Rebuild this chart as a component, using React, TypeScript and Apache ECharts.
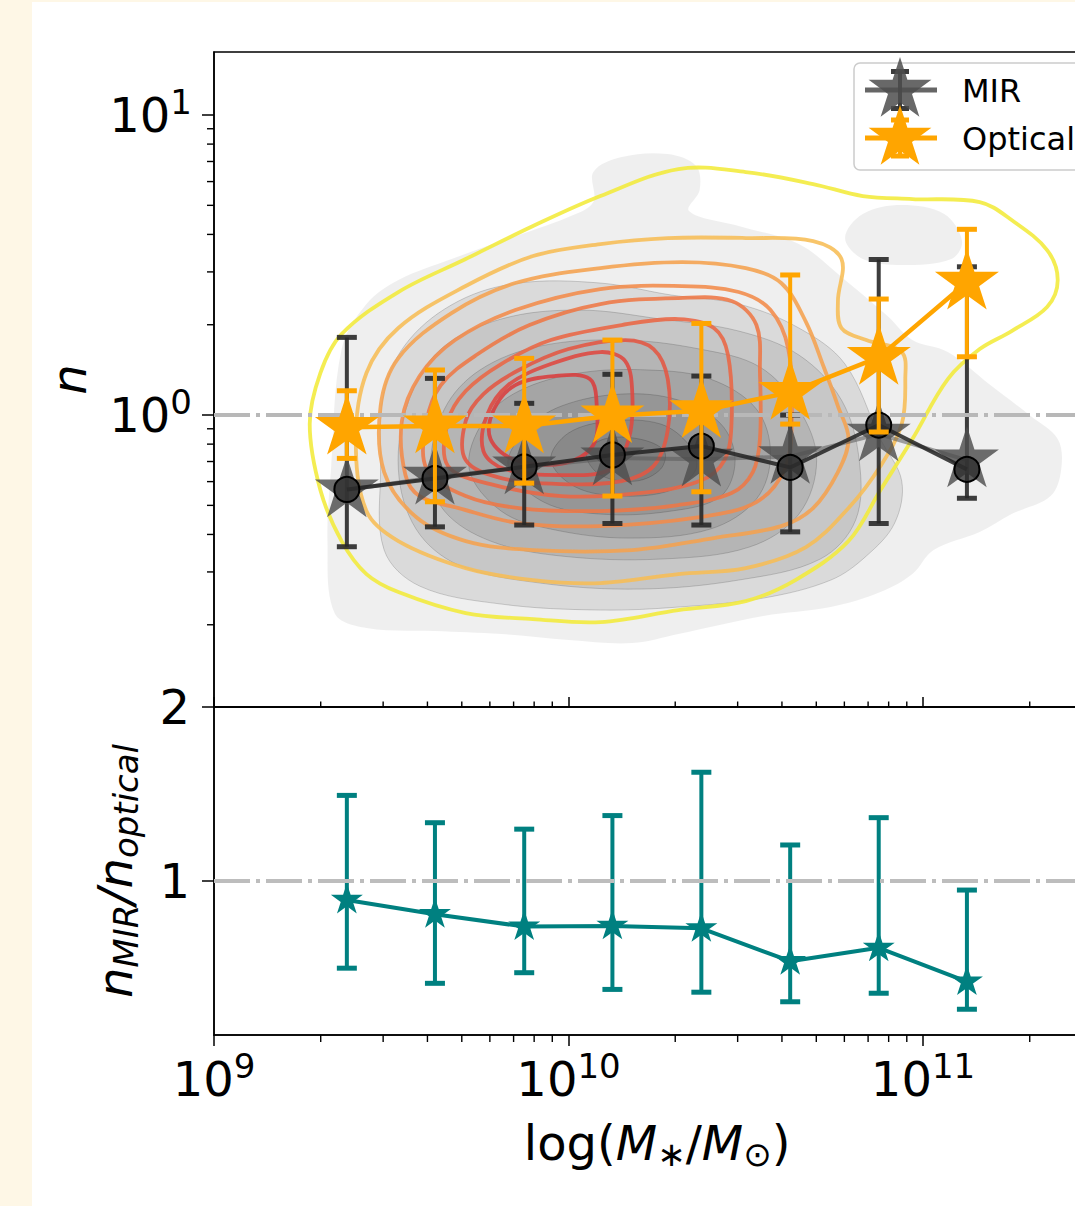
import React, { useEffect, useRef } from 'react';
import * as echarts from 'echarts';

// ---------------- data ----------------
const massBins = [2.37e9, 4.2e9, 7.5e9, 1.33e10, 2.37e10, 4.22e10, 7.5e10, 1.33e11];
const mirMean = [0.563, 0.621, 0.671, 0.719, 0.713, 0.727, 0.864, 0.708];
const mirMedian = [0.565, 0.615, 0.672, 0.736, 0.788, 0.669, 0.926, 0.659];
const mirLow = [0.364, 0.424, 0.43, 0.435, 0.43, 0.408, 0.435, 0.528];
const mirHigh = [1.815, 1.325, 1.094, 1.367, 1.349, 1.0, 3.3, 3.12];
const optMean = [0.91, 0.92, 0.92, 0.994, 1.034, 1.19, 1.557, 2.77];
const optLow = [0.717, 0.514, 0.593, 0.537, 0.555, 0.933, 0.878, 1.564];
const optHigh = [1.205, 1.413, 1.545, 1.778, 2.02, 2.93, 2.436, 4.16];
const ratio = [0.891, 0.809, 0.738, 0.742, 0.728, 0.539, 0.616, 0.422];
const ratioLow = [0.499, 0.412, 0.473, 0.377, 0.361, 0.306, 0.355, 0.263];
const ratioHigh = [1.492, 1.335, 1.298, 1.376, 1.625, 1.207, 1.364, 0.948];

const massRange = [1e9, 3.162e11];
const nRange = [0.1064, 16.22];
const ratioRange = [0.115, 2];
const massTickExps = [9, 10, 11];
const nTickExps = [0, 1];
const ratioTicks = [1, 2];
const minorSteps = [2, 3, 4, 5, 6, 7, 8, 9];
const refValue = 1;

// KDE contours, vertices as [log10 M*, log10 n]
const mirContours = [
  [[9.34,-0.66],[9.32,-0.42],[9.33,-0.18],[9.36,0.22],[9.43,0.37],[9.52,0.45],[9.67,0.52],[9.81,0.58],[10.0,0.66],[10.07,0.71],[10.07,0.81],[10.15,0.86],[10.28,0.87],[10.36,0.83],[10.37,0.75],[10.34,0.68],[10.48,0.63],[10.65,0.57],[10.78,0.45],[10.9,0.33],[10.97,0.25],[11.07,0.21],[11.19,0.1],[11.3,0.0],[11.38,-0.08],[11.39,-0.18],[11.36,-0.27],[11.25,-0.33],[11.16,-0.39],[11.03,-0.45],[10.97,-0.53],[10.88,-0.59],[10.74,-0.64],[10.55,-0.67],[10.31,-0.73],[10.18,-0.76],[10.0,-0.75],[9.81,-0.73],[9.62,-0.72],[9.43,-0.71]],
  [[10.78,0.59],[10.83,0.67],[10.94,0.7],[11.06,0.67],[11.11,0.58],[11.08,0.52],[10.94,0.5],[10.83,0.52]],
  [[9.47,-0.18],[9.48,0.08],[9.55,0.25],[9.69,0.38],[9.86,0.44],[10.09,0.44],[10.29,0.4],[10.48,0.37],[10.65,0.29],[10.78,0.17],[10.88,-0.08],[10.94,-0.22],[10.92,-0.36],[10.84,-0.47],[10.74,-0.55],[10.55,-0.61],[10.31,-0.64],[10.09,-0.65],[9.81,-0.63],[9.58,-0.57],[9.48,-0.45]],
  [[9.52,-0.18],[9.55,0.05],[9.64,0.22],[9.81,0.32],[10.03,0.35],[10.26,0.32],[10.48,0.28],[10.65,0.2],[10.77,0.05],[10.82,-0.15],[10.81,-0.35],[10.71,-0.48],[10.48,-0.55],[10.2,-0.58],[9.92,-0.56],[9.69,-0.5],[9.57,-0.38]],
  [[9.61,-0.18],[9.65,0.02],[9.75,0.15],[9.92,0.23],[10.15,0.25],[10.37,0.22],[10.54,0.16],[10.65,0.02],[10.7,-0.15],[10.65,-0.33],[10.51,-0.44],[10.26,-0.48],[9.98,-0.47],[9.78,-0.42],[9.65,-0.32]],
  [[9.72,-0.18],[9.76,-0.02],[9.86,0.08],[10.03,0.14],[10.23,0.15],[10.4,0.12],[10.53,0.02],[10.57,-0.13],[10.53,-0.28],[10.4,-0.38],[10.17,-0.41],[9.95,-0.38],[9.81,-0.32]],
  [[9.83,-0.17],[9.88,-0.05],[9.98,0.03],[10.15,0.07],[10.31,0.05],[10.43,-0.03],[10.47,-0.15],[10.43,-0.27],[10.29,-0.32],[10.09,-0.33],[9.93,-0.29]],
  [[9.95,-0.15],[10.0,-0.06],[10.12,-0.02],[10.26,-0.03],[10.34,-0.1],[10.36,-0.18],[10.29,-0.25],[10.15,-0.27],[10.02,-0.24]],
  [[10.05,-0.13],[10.1,-0.08],[10.2,-0.08],[10.27,-0.12],[10.26,-0.18],[10.19,-0.22],[10.09,-0.2]],
];

const optContours = [
  [[10.31,0.82],[10.5,0.81],[10.69,0.77],[10.83,0.73],[10.97,0.72],[11.16,0.71],[11.25,0.65],[11.35,0.55],[11.38,0.45],[11.35,0.36],[11.25,0.28],[11.16,0.22],[11.07,0.12],[10.97,-0.08],[10.88,-0.25],[10.79,-0.42],[10.64,-0.55],[10.5,-0.62],[10.31,-0.65],[10.09,-0.69],[9.9,-0.68],[9.71,-0.66],[9.52,-0.59],[9.43,-0.53],[9.36,-0.42],[9.3,-0.25],[9.27,-0.03],[9.3,0.14],[9.36,0.27],[9.52,0.41],[9.71,0.52],[9.9,0.63],[10.09,0.73]],
  [[9.4,-0.08],[9.43,0.14],[9.52,0.29],[9.71,0.43],[9.9,0.53],[10.09,0.57],[10.28,0.59],[10.5,0.59],[10.69,0.58],[10.77,0.52],[10.76,0.38],[10.77,0.29],[10.84,0.25],[10.94,0.21],[10.95,0.12],[10.94,-0.03],[10.88,-0.17],[10.79,-0.31],[10.67,-0.44],[10.5,-0.51],[10.31,-0.53],[10.09,-0.56],[9.9,-0.55],[9.71,-0.51],[9.52,-0.42],[9.43,-0.32]],
  [[9.48,-0.19],[9.47,0.03],[9.52,0.19],[9.67,0.34],[9.85,0.44],[10.09,0.49],[10.32,0.51],[10.5,0.49],[10.6,0.44],[10.67,0.31],[10.72,0.16],[10.76,0.03],[10.79,-0.08],[10.76,-0.19],[10.69,-0.31],[10.6,-0.37],[10.41,-0.41],[10.18,-0.45],[9.9,-0.45],[9.71,-0.42],[9.57,-0.34]],
  [[9.54,-0.2],[9.53,-0.02],[9.58,0.13],[9.68,0.25],[9.85,0.35],[10.09,0.42],[10.32,0.43],[10.48,0.41],[10.57,0.35],[10.62,0.22],[10.63,-0.02],[10.61,-0.18],[10.53,-0.29],[10.37,-0.34],[10.09,-0.37],[9.86,-0.36],[9.69,-0.31],[9.58,-0.27]],
  [[9.6,-0.18],[9.6,-0.02],[9.64,0.1],[9.74,0.2],[9.89,0.3],[10.09,0.37],[10.31,0.39],[10.46,0.38],[10.53,0.3],[10.54,0.14],[10.54,-0.08],[10.52,-0.19],[10.46,-0.26],[10.31,-0.3],[10.09,-0.32],[9.86,-0.31],[9.71,-0.27]],
  [[9.66,-0.17],[9.66,-0.02],[9.71,0.08],[9.81,0.17],[9.95,0.25],[10.15,0.3],[10.31,0.32],[10.41,0.29],[10.45,0.2],[10.46,-0.02],[10.44,-0.15],[10.37,-0.22],[10.2,-0.26],[9.98,-0.27],[9.78,-0.23]],
  [[9.71,-0.15],[9.71,-0.02],[9.76,0.07],[9.86,0.15],[10.0,0.22],[10.16,0.25],[10.24,0.22],[10.28,0.12],[10.28,-0.05],[10.24,-0.17],[10.15,-0.22],[9.98,-0.23],[9.81,-0.21]],
  [[9.76,-0.12],[9.77,0.0],[9.83,0.1],[9.95,0.17],[10.09,0.21],[10.16,0.18],[10.18,0.07],[10.17,-0.08],[10.12,-0.18],[9.98,-0.2],[9.82,-0.18]],
  [[9.78,-0.08],[9.79,0.02],[9.85,0.1],[9.96,0.13],[10.06,0.12],[10.08,0.02],[10.07,-0.1],[9.99,-0.16],[9.85,-0.15]],
];
const optContourColors = ['#f2ea3a', '#f7bd55', '#f5a24f', '#f28b4a', '#ee7846', '#ea6644', '#e45642', '#df4840', '#da3d3d'];

// ---------------- helpers ----------------
const FONT = 'DejaVu Sans';
const STAR_D = 'M0,-50L11.23,-15.45L47.55,-15.45L18.17,5.9L29.39,40.45L0,19.1L-29.39,40.45L-18.17,5.9L-47.55,-15.45L-11.23,-15.45Z';
echarts.graphic.registerShape('star5', echarts.graphic.extendPath(STAR_D, {}));
const STAR_SYMBOL = 'path://' + STAR_D;

const lg = (v: number) => Math.log10(v);
const lx = massBins.map(lg);
const xMin = lg(massRange[0]);
const xMax = lg(massRange[1]);
const yMin = lg(nRange[0]);
const yMax = lg(nRange[1]);

const xMinor: number[] = [];
[8, 9, 10, 11].forEach((d) => minorSteps.forEach((k) => { const v = d + lg(k); if (v > xMin && v < xMax) xMinor.push(v); }));
const yMinor: number[] = [];
[-1, 0, 1].forEach((d) => minorSteps.forEach((k) => { const v = d + lg(k); if (v > yMin && v < yMax) yMinor.push(v); }));

function errorBars(color: string, lineW: number, capW: number, capLw: number) {
  return (params: any, api: any) => {
    const x = api.value(0);
    const lo = api.coord([x, api.value(1)]);
    const hi = api.coord([x, api.value(2)]);
    return {
      type: 'group',
      children: [
        { type: 'line', shape: { x1: lo[0], y1: lo[1], x2: hi[0], y2: hi[1] }, style: { stroke: color, lineWidth: lineW } },
        { type: 'line', shape: { x1: hi[0] - capW / 2, y1: hi[1], x2: hi[0] + capW / 2, y2: hi[1] }, style: { stroke: color, lineWidth: capLw } },
        { type: 'line', shape: { x1: lo[0] - capW / 2, y1: lo[1], x2: lo[0] + capW / 2, y2: lo[1] }, style: { stroke: color, lineWidth: capLw } },
      ],
    };
  };
}

function tickSeries(xi: number, yi: number, data: number[][], dx: number, dy: number) {
  return {
    type: 'custom', xAxisIndex: xi, yAxisIndex: yi, silent: true, z: 20, clip: false,
    data,
    renderItem: (params: any, api: any) => {
      const p = api.coord([api.value(0), api.value(1)]);
      return { type: 'line', shape: { x1: p[0], y1: p[1], x2: p[0] + dx, y2: p[1] + dy }, style: { stroke: '#000', lineWidth: 1.4 } };
    },
  };
}

const axisLineStyle = { color: '#000', width: 1.5 };
const supRich = {
  b: { fontSize: 48, lineHeight: 60, fontFamily: FONT, color: '#000' },
  p: { fontSize: 34, lineHeight: 30, fontFamily: FONT, color: '#000', verticalAlign: 'top' },
};

function buildOption() {
  return {
    animation: false,
    backgroundColor: '#ffffff',
    grid: [
      { left: 182, top: 50, width: 886.25, height: 655, show: true, borderColor: '#000', borderWidth: 1.5, backgroundColor: 'transparent' },
      { left: 182, top: 705, width: 886.25, height: 328, show: true, borderColor: '#000', borderWidth: 1.5, backgroundColor: 'transparent' },
    ],
    xAxis: [
      {
        gridIndex: 0, type: 'value', min: xMin, max: xMax,
        axisLine: { show: true, onZero: false, lineStyle: axisLineStyle },
        axisTick: { show: true, inside: true, length: 10, customValues: massTickExps, lineStyle: axisLineStyle },
        axisLabel: { show: false }, splitLine: { show: false },
      },
      {
        gridIndex: 1, type: 'value', min: xMin, max: xMax,
        axisLine: { show: true, onZero: false, lineStyle: axisLineStyle },
        axisTick: { show: true, length: 11, customValues: massTickExps, lineStyle: axisLineStyle },
        axisLabel: { show: true, customValues: massTickExps, margin: 14, formatter: (v: number) => `{b|10}{p|${Math.round(v)}}`, rich: supRich },
        splitLine: { show: false },
        name: '{n|log(}{i|M}{s|∗}{n|/}{i|M}{s|⊙}{n|)}',
        nameLocation: 'middle', nameGap: 80,
        nameTextStyle: {
          rich: {
            n: { fontSize: 48, lineHeight: 56, fontFamily: FONT, color: '#000' },
            i: { fontSize: 48, lineHeight: 56, fontFamily: FONT, fontStyle: 'italic', color: '#000' },
            s: { fontSize: 34, lineHeight: 28, fontFamily: FONT, color: '#000', verticalAlign: 'bottom' },
          },
        },
      },
    ],
    yAxis: [
      {
        gridIndex: 0, type: 'value', min: yMin, max: yMax,
        axisLine: { show: true, onZero: false, lineStyle: axisLineStyle },
        axisTick: { show: true, length: 12, customValues: nTickExps, lineStyle: axisLineStyle },
        axisLabel: { show: true, customValues: nTickExps, margin: 22, formatter: (v: number) => `{b|10}{p|${Math.round(v)}}`, rich: supRich },
        splitLine: { show: false },
        name: 'n', nameLocation: 'middle', nameGap: 117,
        nameTextStyle: { fontSize: 48, lineHeight: 56, fontStyle: 'italic', fontFamily: FONT, color: '#000' },
      },
      {
        gridIndex: 1, type: 'value', min: ratioRange[0], max: ratioRange[1],
        axisLine: { show: true, onZero: false, lineStyle: axisLineStyle },
        axisTick: { show: true, length: 12, customValues: ratioTicks, lineStyle: axisLineStyle },
        axisLabel: { show: true, customValues: ratioTicks, margin: 24, fontSize: 48, fontFamily: FONT, color: '#000' },
        splitLine: { show: false },
        name: '{i|n}{s|MIR}{i|/n}{s|optical}', nameLocation: 'middle', nameGap: 71,
        nameTextStyle: {
          rich: {
            i: { fontSize: 48, lineHeight: 56, fontFamily: FONT, fontStyle: 'italic', color: '#000' },
            s: { fontSize: 34, lineHeight: 28, fontFamily: FONT, fontStyle: 'italic', color: '#000', verticalAlign: 'bottom' },
          },
        },
      },
    ],
    series: [
      // MIR KDE (filled grey levels)
      {
        type: 'custom', xAxisIndex: 0, yAxisIndex: 0, silent: true, z: 1,
        data: mirContours.map((poly, i) => [poly[0][0], poly[0][1], i]),
        renderItem: (params: any, api: any) => {
          const i = params.dataIndex;
          const pts = mirContours[i].map((p) => api.coord(p));
          return {
            type: 'polygon', shape: { points: pts, smooth: 0.35 },
            style: { fill: i > 1 ? 'rgba(0,0,0,0.088)' : 'rgba(0,0,0,0.062)', stroke: i > 1 ? 'rgba(0,0,0,0.16)' : 'none', lineWidth: 1 },
          };
        },
      },
      // Optical KDE (line levels)
      {
        type: 'custom', xAxisIndex: 0, yAxisIndex: 0, silent: true, z: 2,
        data: optContours.map((poly, i) => [poly[0][0], poly[0][1], i]),
        renderItem: (params: any, api: any) => {
          const i = params.dataIndex;
          const pts = optContours[i].map((p) => api.coord(p));
          return {
            type: 'polygon', shape: { points: pts, smooth: 0.35 },
            style: { fill: 'none', stroke: optContourColors[i], lineWidth: 3.8, opacity: 0.88 },
          };
        },
      },
      // reference line n = 1
      {
        type: 'line', xAxisIndex: 0, yAxisIndex: 0, z: 3, silent: true, showSymbol: false,
        data: [[xMin, lg(refValue)]], lineStyle: { opacity: 0 },
        markLine: {
          silent: true, symbol: ['none', 'none'], label: { show: false }, emphasis: { disabled: true },
          lineStyle: { color: '#b8b8b8', width: 4, type: [36, 6, 4, 6] },
          data: [{ yAxis: lg(refValue) }],
        },
      },
      // MIR error bars
      {
        type: 'custom', xAxisIndex: 0, yAxisIndex: 0, silent: true, z: 4,
        data: lx.map((x, i) => [x, lg(mirLow[i]), lg(mirHigh[i])]),
        renderItem: errorBars('rgba(40,40,40,0.9)', 4, 20, 5),
      },
      // MIR mean (stars)
      {
        type: 'line', name: 'MIR', xAxisIndex: 0, yAxisIndex: 0, z: 5, silent: true,
        data: lx.map((x, i) => [x, lg(mirMean[i])]),
        symbol: STAR_SYMBOL, symbolSize: [64, 61], symbolOffset: [0, '-5.3%'],
        itemStyle: { color: 'rgba(78,78,78,0.82)' },
        lineStyle: { color: 'rgba(90,90,90,0.55)', width: 4 },
        emphasis: { disabled: true },
      },
      // MIR median (circles)
      {
        type: 'line', name: 'MIR median', xAxisIndex: 0, yAxisIndex: 0, z: 6, silent: true,
        data: lx.map((x, i) => [x, lg(mirMedian[i])]),
        symbol: 'circle', symbolSize: 25,
        itemStyle: { color: 'rgba(45,45,45,0.78)', borderColor: '#000', borderWidth: 2 },
        lineStyle: { color: '#222', width: 4, opacity: 0.85 },
        emphasis: { disabled: true },
      },
      // Optical error bars
      {
        type: 'custom', xAxisIndex: 0, yAxisIndex: 0, silent: true, z: 7,
        data: lx.map((x, i) => [x, lg(optLow[i]), lg(optHigh[i])]),
        renderItem: errorBars('#ffa500', 4, 20, 5),
      },
      // Optical mean (stars)
      {
        type: 'line', name: 'Optical', xAxisIndex: 0, yAxisIndex: 0, z: 8, silent: true,
        data: lx.map((x, i) => [x, lg(optMean[i])]),
        symbol: STAR_SYMBOL, symbolSize: [64, 61], symbolOffset: [0, '-5.3%'],
        itemStyle: { color: '#ffa500' },
        lineStyle: { color: '#ffa500', width: 4.5 },
        emphasis: { disabled: true },
      },
      // bottom panel: reference line
      {
        type: 'line', xAxisIndex: 1, yAxisIndex: 1, z: 3, silent: true, showSymbol: false,
        data: [[xMin, refValue]], lineStyle: { opacity: 0 },
        markLine: {
          silent: true, symbol: ['none', 'none'], label: { show: false }, emphasis: { disabled: true },
          lineStyle: { color: '#bdbdbd', width: 4, type: [36, 6, 4, 6] },
          data: [{ yAxis: refValue }],
        },
      },
      // ratio error bars
      {
        type: 'custom', xAxisIndex: 1, yAxisIndex: 1, silent: true, z: 4,
        data: lx.map((x, i) => [x, ratioLow[i], ratioHigh[i]]),
        renderItem: errorBars('#008080', 4, 20, 5),
      },
      // ratio line
      {
        type: 'line', name: 'ratio', xAxisIndex: 1, yAxisIndex: 1, z: 5, silent: true,
        data: lx.map((x, i) => [x, ratio[i]]),
        symbol: STAR_SYMBOL, symbolSize: [32, 30], symbolOffset: [0, '-5.3%'],
        itemStyle: { color: '#008080' },
        lineStyle: { color: '#008080', width: 4 },
        emphasis: { disabled: true },
      },
      // minor ticks
      tickSeries(0, 0, xMinor.map((v) => [v, yMin]), 0, -5.5),
      tickSeries(1, 1, xMinor.map((v) => [v, ratioRange[0]]), 0, 7),
      tickSeries(0, 0, yMinor.map((v) => [xMin, v]), -7, 0),
    ],
    graphic: [
      { type: 'rect', z: 100, shape: { x: 822, y: 61, width: 262, height: 107, r: 6 }, style: { fill: 'rgba(255,255,255,0.85)', stroke: '#cccccc', lineWidth: 1.5 } },
      // MIR entry
      { type: 'line', z: 101, shape: { x1: 833, y1: 88, x2: 905, y2: 88 }, style: { stroke: 'rgba(85,85,85,0.9)', lineWidth: 5 } },
      { type: 'line', z: 101, shape: { x1: 868, y1: 69.5, x2: 868, y2: 106.5 }, style: { stroke: 'rgba(40,40,40,0.9)', lineWidth: 4 } },
      { type: 'line', z: 101, shape: { x1: 859, y1: 69.5, x2: 877, y2: 69.5 }, style: { stroke: 'rgba(40,40,40,0.9)', lineWidth: 5 } },
      { type: 'line', z: 101, shape: { x1: 859, y1: 106.5, x2: 877, y2: 106.5 }, style: { stroke: 'rgba(40,40,40,0.9)', lineWidth: 5 } },
      { type: 'star5', z: 102, x: 868, y: 88, scaleX: 0.66, scaleY: 0.66, style: { fill: 'rgba(78,78,78,0.85)' } },
      { type: 'text', z: 102, x: 930, y: 89, style: { text: 'MIR', fontSize: 32, fontFamily: FONT, fill: '#000', align: 'left', verticalAlign: 'middle' } },
      // Optical entry
      { type: 'line', z: 101, shape: { x1: 833, y1: 136, x2: 905, y2: 136 }, style: { stroke: '#ffa500', lineWidth: 5 } },
      { type: 'line', z: 101, shape: { x1: 868, y1: 118, x2: 868, y2: 154 }, style: { stroke: '#ffa500', lineWidth: 4 } },
      { type: 'line', z: 101, shape: { x1: 859, y1: 118, x2: 877, y2: 118 }, style: { stroke: '#ffa500', lineWidth: 5 } },
      { type: 'line', z: 101, shape: { x1: 859, y1: 154, x2: 877, y2: 154 }, style: { stroke: '#ffa500', lineWidth: 5 } },
      { type: 'star5', z: 102, x: 868, y: 136, scaleX: 0.66, scaleY: 0.66, style: { fill: '#ffa500' } },
      { type: 'text', z: 102, x: 930, y: 137, style: { text: 'Optical', fontSize: 32, fontFamily: FONT, fill: '#000', align: 'left', verticalAlign: 'middle' } },
    ],
  };
}

export default function App() {
  const ref = useRef<HTMLDivElement>(null);
  useEffect(() => {
    const chart = echarts.init(ref.current as HTMLDivElement, null, { renderer: 'svg' });
    chart.setOption(buildOption() as any);
    return () => chart.dispose();
  }, []);
  return (
    <div style={{ position: 'absolute', left: 0, top: 0, width: 1075, height: 1206, overflow: 'hidden', background: '#fef7e6' }}>
      <div ref={ref} style={{ position: 'absolute', left: 32, top: 2, width: 1160, height: 1204, background: '#ffffff' }} />
    </div>
  );
}
